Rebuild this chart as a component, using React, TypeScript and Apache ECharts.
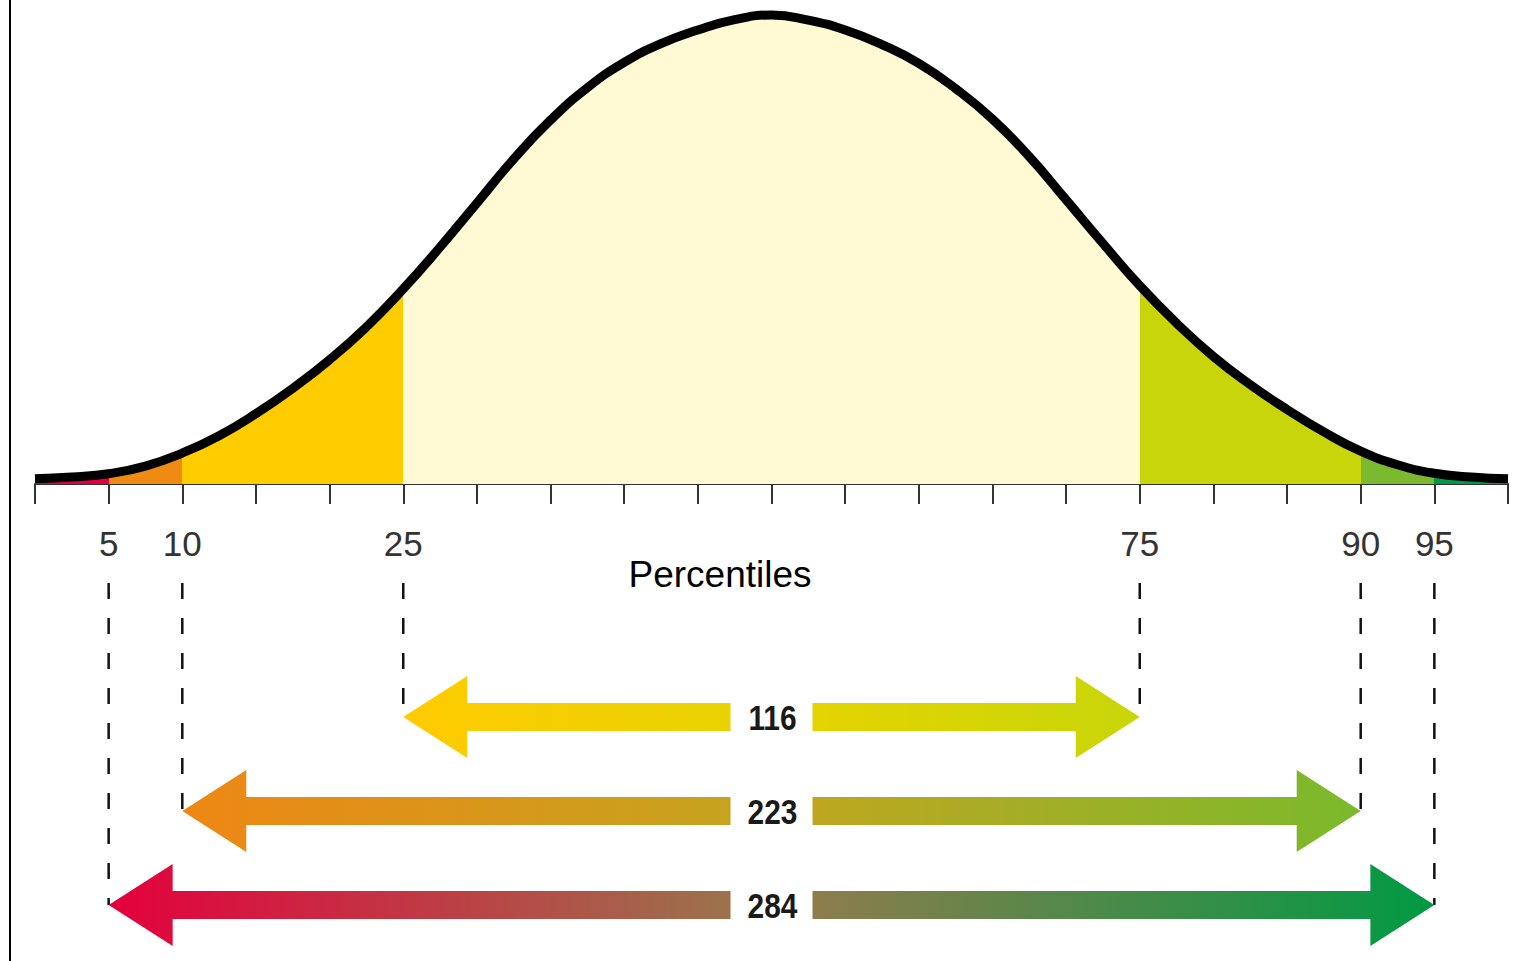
import React, { useEffect, useRef } from 'react';
import * as echarts from 'echarts';

// Curve sample positions (in axis tick units, 0..20) and heights
const curveX = [
  0, 0.5, 1, 1.5, 2, 2.5, 3, 3.5, 4, 4.5, 5, 5.5, 6, 6.5, 7, 7.5, 8, 8.5, 9, 9.5, 10,
  10.5, 11, 11.5, 12, 12.5, 13, 13.5, 14, 14.5, 15, 15.5, 16, 16.5, 17, 17.5, 18, 18.5, 19, 19.5, 20,
];
const curveY = [
  1.1, 1.5, 2.2, 3.8, 6.6, 10.3, 15.0, 20.4, 26.5, 33.5, 41.6, 50.5, 59.9, 69.3, 77.6, 84.5, 89.9, 93.9, 96.8, 99.0, 100,
  98.9, 96.8, 93.7, 89.7, 84.3, 77.8, 69.8, 60.6, 51.3, 42.3, 34.3, 27.2, 21.2, 15.9, 11.1, 7.0, 4.1, 2.3, 1.5, 1.1,
];

// Percentile tick positions and their labels
const percentileTicks = [1, 2, 5, 15, 18, 19];
const percentileLabels = ['5', '10', '25', '75', '90', '95'];

// Fill colours of the regions between percentiles
const regionColors = ['#E4003B', '#EF8A13', '#FFCC00', '#FFFAD3', '#C9D50B', '#7BB92E', '#00994A'];

// Range arrows
const arrowFrom = [5, 2, 1];
const arrowTo = [15, 18, 19];
const arrowValues = ['116', '223', '284'];
const arrowColorLeft = ['#FFCB00', '#EE8714', '#E4003D'];
const arrowColorMid = ['#E7D300', '#C3A51F', '#977A4D'];
const arrowColorRight = ['#C8D60A', '#7BB92C', '#009A44'];

const AXIS_MIN = 0;
const AXIS_MAX = 20;

export default function App() {
  const ref = useRef<HTMLDivElement>(null);

  useEffect(() => {
    if (!ref.current) return;
    const chart = echarts.init(ref.current, undefined, { renderer: 'svg' });

    const bounds = [AXIS_MIN, ...percentileTicks, AXIS_MAX];
    const pieces = regionColors.map((c, i) =>
      i === regionColors.length - 1
        ? { gte: bounds[i], lte: bounds[i + 1], color: c }
        : { gte: bounds[i], lt: bounds[i + 1], color: c }
    );

    const renderArrow = (params: any, api: any) => {
      const from = api.value(0);
      const to = api.value(1);
      const idx = api.value(2);
      const y0 = api.coord([AXIS_MIN, 0])[1];
      const x1 = api.coord([from, 0])[0];
      const x2 = api.coord([to, 0])[0];
      const cy = y0 + 233 + idx * 94;
      const cx = (x1 + x2) / 2;
      const headL = 64;
      const headH = 41;
      const shaftH = 14;
      const gap = 41;
      const grad = new echarts.graphic.LinearGradient(
        x1, 0, x2, 0,
        [
          { offset: 0, color: arrowColorLeft[idx] },
          { offset: 0.5, color: arrowColorMid[idx] },
          { offset: 1, color: arrowColorRight[idx] },
        ],
        true
      );
      const leftPts = [
        [x1, cy], [x1 + headL, cy - headH], [x1 + headL, cy - shaftH], [cx - gap, cy - shaftH],
        [cx - gap, cy + shaftH], [x1 + headL, cy + shaftH], [x1 + headL, cy + headH],
      ];
      const rightPts = [
        [x2, cy], [x2 - headL, cy - headH], [x2 - headL, cy - shaftH], [cx + gap, cy - shaftH],
        [cx + gap, cy + shaftH], [x2 - headL, cy + shaftH], [x2 - headL, cy + headH],
      ];
      const dashStyle = { stroke: '#111', lineWidth: 2.5, lineDash: [16, 19] };
      return {
        type: 'group',
        children: [
          { type: 'line', shape: { x1: x1, y1: y0 + 99, x2: x1, y2: cy }, style: dashStyle },
          { type: 'line', shape: { x1: x2, y1: y0 + 99, x2: x2, y2: cy }, style: dashStyle },
          { type: 'polygon', shape: { points: leftPts }, style: { fill: grad } },
          { type: 'polygon', shape: { points: rightPts }, style: { fill: grad } },
          {
            type: 'text',
            x: cx + 1,
            y: cy,
            scaleX: 0.83,
            style: {
              text: arrowValues[idx],
              x: 0,
              y: 0,
              align: 'center',
              verticalAlign: 'middle',
              fontSize: 36,
              fontWeight: 'bold',
              fontFamily: "'Liberation Sans', Arial, sans-serif",
              fill: '#1a1a1a',
            },
          },
        ],
      };
    };

    chart.setOption({
      animation: false,
      backgroundColor: '#ffffff',
      grid: { left: 35, right: 16, top: 15, bottom: 477, containLabel: false, outerBoundsMode: 'none' },
      xAxis: {
        type: 'value',
        min: AXIS_MIN,
        max: AXIS_MAX,
        interval: 1,
        axisLine: { onZero: false, lineStyle: { color: '#333', width: 2 } },
        axisTick: { show: true, length: 20, lineStyle: { color: '#333', width: 2 } },
        splitLine: { show: false },
        axisLabel: {
          margin: 42,
          fontSize: 35,
          fontFamily: "'Liberation Sans Narrow', 'Liberation Sans', sans-serif",
          color: '#333',
          hideOverlap: false,
          showMinLabel: true,
          showMaxLabel: true,
          formatter: (v: number) => {
            const i = percentileTicks.indexOf(v);
            return i >= 0 ? percentileLabels[i] : '';
          },
        },
      },
      yAxis: { type: 'value', min: 0, max: 100, show: false },
      visualMap: {
        type: 'piecewise',
        show: false,
        dimension: 0,
        seriesIndex: 0,
        pieces,
      },
      series: [
        {
          type: 'line',
          data: curveX.map((x, i) => [x, curveY[i]]),
          smooth: 0.5,
          symbol: 'none',
          showSymbol: false,
          clip: false,
          lineStyle: { color: '#000', width: 9 },
          areaStyle: { opacity: 1, origin: 'auto' },
          z: 2,
        },
        {
          type: 'custom',
          renderItem: renderArrow,
          data: arrowFrom.map((f, i) => [f, arrowTo[i], i]),
          clip: false,
          silent: true,
          z: 3,
        },
      ],
      graphic: [
        { type: 'rect', shape: { x: 9, y: 0, width: 2, height: 961 }, style: { fill: '#000' } },
        {
          type: 'text',
          x: 720,
          y: 574,
          style: {
            text: 'Percentiles',
            align: 'center',
            verticalAlign: 'middle',
            fontSize: 37,
            fontFamily: "'Liberation Sans', Arial, sans-serif",
            fill: '#000',
          },
        },
      ],
    });

    return () => chart.dispose();
  }, []);

  return (
    <div
      ref={ref}
      style={{ position: 'fixed', left: 0, top: 0, width: 1524, height: 961, background: '#fff' }}
    />
  );
}
